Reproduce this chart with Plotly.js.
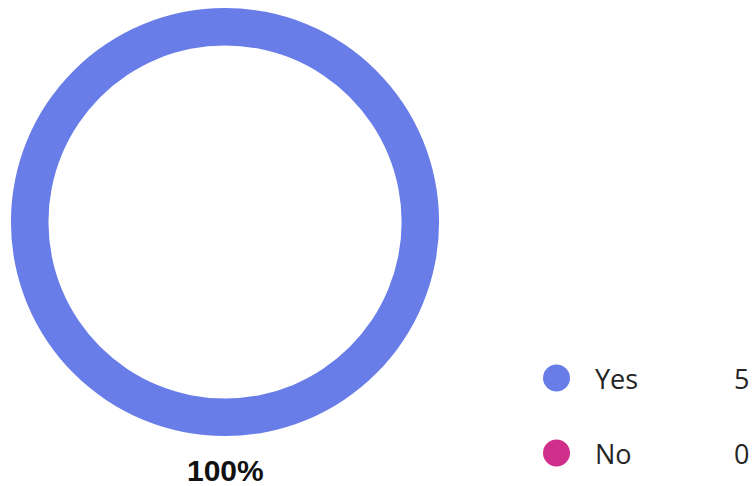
<!DOCTYPE html>
<html>
<head>
<meta charset="utf-8">
<script src="https://cdn.plot.ly/plotly-3.0.1.min.js"></script>
<style>html,body{margin:0;padding:0;background:#fff;}#chart{width:756px;height:486px;}</style>
</head>
<body>
<div id="chart"></div>
<script>
const labels = ["Yes", "No"];
const values = [5, 0];
const colors = ["#687DE8", "#CF2F8B"];

const W = 756, H = 486;
const total = values.reduce((a, b) => a + b, 0);
const pct = Math.round(values[0] / total * 100) + "%";

const trace = {
  type: "pie",
  labels: labels,
  values: values,
  hole: 0.825,
  sort: false,
  direction: "clockwise",
  textinfo: "none",
  hoverinfo: "label+value+percent",
  showlegend: false,
  marker: {colors: colors, line: {width: 0}},
  domain: {x: [11 / W, 439 / W], y: [(H - 436) / H, (H - 8) / H]}
};

const annotations = [{
  x: 225 / W, y: (H - 470) / H, xref: "paper", yref: "paper",
  text: "<b>" + pct + "</b>", showarrow: false,
  font: {family: "Liberation Sans, Arial, sans-serif", size: 30, color: "#111"},
  xanchor: "center", yanchor: "middle"
}];
const shapes = [];
const rowY = [378, 453];
labels.forEach((lab, i) => {
  const cy = rowY[i];
  shapes.push({
    type: "circle", xref: "paper", yref: "paper",
    x0: 543 / W, x1: 570 / W, y0: (H - cy - 13.5) / H, y1: (H - cy + 13.5) / H,
    fillcolor: colors[i], line: {width: 0}
  });
  annotations.push({
    x: 593 / W, y: (H - cy) / H, xref: "paper", yref: "paper",
    text: lab, showarrow: false, xanchor: "left", yanchor: "middle",
    font: {family: "Open Sans, sans-serif", size: 27, color: "#252525"}
  });
  annotations.push({
    x: 751 / W, y: (H - cy) / H, xref: "paper", yref: "paper",
    text: String(values[i]), showarrow: false, xanchor: "right", yanchor: "middle",
    font: {family: "Open Sans, sans-serif", size: 27, color: "#252525"}
  });
});

const layout = {
  width: W, height: H,
  margin: {l: 0, r: 0, t: 0, b: 0},
  paper_bgcolor: "#fff", plot_bgcolor: "#fff",
  showlegend: false,
  annotations: annotations,
  shapes: shapes
};

Plotly.newPlot("chart", [trace], layout, {displayModeBar: false, staticPlot: true});
</script>
</body>
</html>
